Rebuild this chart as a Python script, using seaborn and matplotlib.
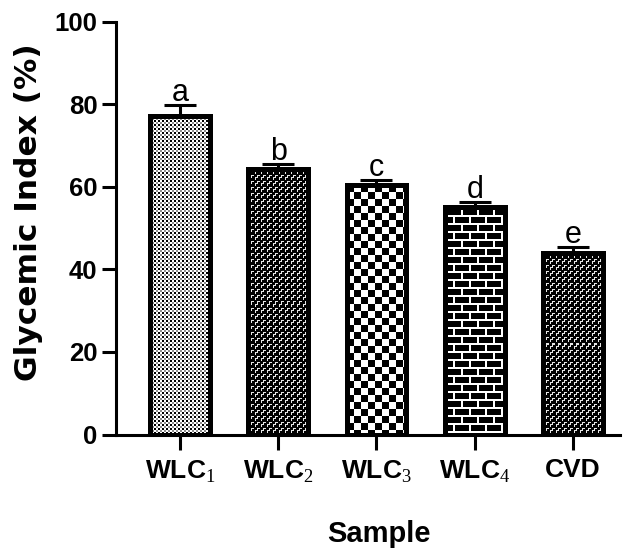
import numpy as np
import pandas as pd
import matplotlib
matplotlib.use("Agg")
import matplotlib.pyplot as plt
import seaborn as sns

# ---- data ----
samples = ["WLC1", "WLC2", "WLC3", "WLC4", "CVD"]
tick_labels = [r"WLC$_{\mathrm{1}}$", r"WLC$_{\mathrm{2}}$", r"WLC$_{\mathrm{3}}$",
               r"WLC$_{\mathrm{4}}$", "CVD"]
gi_mean = [77.2, 64.2, 60.5, 55.2, 43.9]
gi_sd = [2.5, 1.2, 1.2, 1.0, 1.4]
letters = ["a", "b", "c", "d", "e"]
patterns = ["fine", "stair", "checker", "brick", "stair"]
yticks = [0, 20, 40, 60, 80, 100]

sns.set_style("ticks")
plt.rcParams["font.family"] = ["Liberation Sans", "DejaVu Sans"]
plt.rcParams["mathtext.fontset"] = "custom"
plt.rcParams["mathtext.rm"] = "Liberation Serif"
plt.rcParams["axes.linewidth"] = 2.2
plt.rcParams["text.color"] = "black"
plt.rcParams["axes.labelcolor"] = "black"
plt.rcParams["xtick.color"] = "black"
plt.rcParams["ytick.color"] = "black"
plt.rcParams["axes.edgecolor"] = "black"

df = pd.DataFrame({"Sample": samples, "GI": gi_mean})

fig = plt.figure(figsize=(6.29, 5.58), dpi=100)
L, R, T, B = 116, 620, 21.5, 434.5
ax = fig.add_axes([L / 629, 1 - B / 558, (R - L) / 629, (B - T) / 558])

sns.barplot(data=df, x="Sample", y="GI", ax=ax, width=0.61, color="white",
            edgecolor="black", linewidth=3.6, errorbar=None, saturation=1)

xl = (-0.651, 4.478)
ax.set_xlim(*xl)
ax.set_ylim(0, 100)


def make_pattern(kind, H, W):
    r, c = np.mgrid[0:H, 0:W]
    if kind == "fine":
        arr = np.ones((H, W))
        arr[(r % 4 < 2) & (c % 4 < 2)] = 0.0
        arr[(r % 4 >= 2) & (c % 4 >= 2)] = 0.55
    elif kind == "checker":
        arr = ((r // 7 + c // 7) % 2).astype(float)
    elif kind == "brick":
        arr = np.zeros((H, W))
        arr[r % 8 < 2] = 1.0
        off = np.where((r // 8) % 2 == 0, 0, 8)
        arr[((c + off) % 16) < 2] = 1.0
    else:
        tile = np.array([
            [0, 0, 0, 1, 1, 1],
            [0, 0, 0, 1, 0, 0],
            [0, 1, 1, 1, 0, 0],
            [0, 1, 0, 0, 0, 0],
            [0, 1, 0, 0, 0, 0],
            [0, 0, 0, 0, 0, 0]], dtype=float) * 0.9
        arr = np.tile(tile, (H // 6 + 1, W // 6 + 1))[:H, :W]
    return arr


bars = list(ax.patches)
centers = []
for p, kind in zip(bars, patterns):
    x0, w, h = p.get_x(), p.get_width(), p.get_height()
    centers.append(x0 + w / 2)
    (px0, py0), (px1, py1) = ax.transData.transform([(x0, 0), (x0 + w, h)])
    W = max(int(round(px1 - px0)), 1)
    H = max(int(round(py1 - py0)), 1)
    img = ax.imshow(make_pattern(kind, H, W), cmap="gray", vmin=0, vmax=1,
                    extent=(x0, x0 + w, 0, h), origin="upper",
                    interpolation="nearest", aspect="auto", zorder=0.5)
    img.set_clip_path(p)
    p.set_facecolor("none")
    p.set_edgecolor("black")
    p.set_zorder(1)

ax.errorbar(centers, gi_mean, yerr=[np.zeros(len(gi_sd)), gi_sd], fmt="none",
            ecolor="black", elinewidth=2.2, capsize=11.5, capthick=2.2, zorder=2)

for xc, m, s, lt in zip(centers, gi_mean, gi_sd, letters):
    ax.text(xc, m + s + 1.0, lt, ha="center", va="baseline", fontsize=22,
            color="black")

ax.set_xlim(*xl)
ax.set_ylim(0, 100)
ax.set_yticks(yticks)
ax.set_yticklabels([str(v) for v in yticks], fontsize=18.5, fontweight="bold",
                   color="black")
ax.set_xticks(centers)
ax.set_xticklabels(tick_labels, fontsize=19, fontweight="bold", color="black")
ax.tick_params(axis="y", length=10, width=2.2, pad=3.5, color="black")
ax.tick_params(axis="x", length=11, width=2.2, pad=6, color="black")
sns.despine(ax=ax)
for sp in ax.spines.values():
    sp.set_color("black")

ax.set_ylabel("Glycemic Index (%)", fontsize=22.5, fontweight="bold",
              family="DejaVu Sans", color="black")
ax.yaxis.set_label_coords(-0.145, 0.5375)
ax.set_xlabel("Sample", fontsize=21, fontweight="bold", color="black")
ax.xaxis.set_label_coords(0.522, -0.207)
ax.xaxis.label.set_va("top")

fig.savefig("out.png", dpi=100)
